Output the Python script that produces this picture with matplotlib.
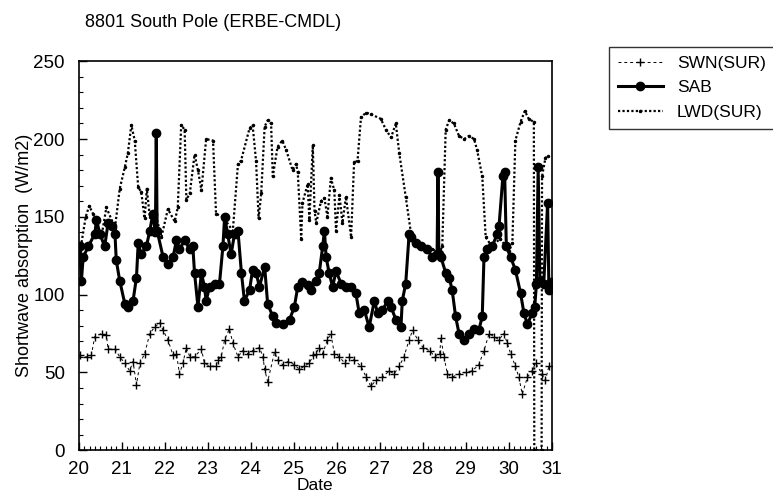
"""
8801 South Pole (ERBE-CMDL): shortwave absorption vs date
"""

import matplotlib
matplotlib.use("Agg")
import matplotlib.pyplot as plt
from matplotlib.ticker import MultipleLocator

plt.rcParams['font.family'] = ['Liberation Sans', 'DejaVu Sans']

# ==================== Data ====================

swn_days = [20.02, 20.18, 20.29, 20.37, 20.53, 20.64, 20.68, 20.84, 20.95, 21.07,
            21.18, 21.26, 21.34, 21.42, 21.53, 21.65, 21.76, 21.88, 21.96, 22.07,
            22.19, 22.27, 22.34, 22.42, 22.50, 22.58, 22.69, 22.85, 22.92, 23.04,
            23.19, 23.23, 23.31, 23.39, 23.50, 23.58, 23.70, 23.81, 23.93, 24.04,
            24.20, 24.28, 24.32, 24.39, 24.55, 24.63, 24.74, 24.86, 25.01, 25.13,
            25.24, 25.36, 25.45, 25.51, 25.59, 25.67, 25.78, 25.86, 25.94, 26.06,
            26.18, 26.29, 26.40, 26.56, 26.68, 26.79, 26.91, 27.06, 27.22, 27.33,
            27.45, 27.56, 27.68, 27.76, 27.88, 28.00, 28.16, 28.28, 28.39, 28.42,
            28.49, 28.57, 28.68, 28.84, 29.00, 29.15, 29.30, 29.42, 29.54, 29.65,
            29.77, 29.88, 29.96, 30.04, 30.15, 30.23, 30.31, 30.43, 30.54, 30.62,
            30.77, 30.85, 30.93]
swn_vals = [61, 60, 61, 73, 75, 74, 65, 65, 60, 56,
            51, 57, 42, 56, 62, 75, 79, 82, 77, 71,
            61, 62, 49, 56, 66, 60, 60, 65, 56, 54,
            54, 58, 60, 71, 78, 69, 60, 64, 62, 64,
            66, 60, 52, 44, 63, 58, 55, 57, 55, 52,
            54, 56, 61, 62, 66, 62, 71, 75, 62, 60,
            56, 60, 58, 54, 47, 41, 45, 47, 51, 49,
            54, 60, 71, 77, 71, 66, 64, 60, 62, 72,
            60, 49, 47, 49, 50, 51, 55, 64, 75, 73,
            71, 75, 69, 62, 54, 47, 36, 47, 51, 56,
            49, 45, 54]

sab_days = [20.02, 20.06, 20.10, 20.22, 20.37, 20.41, 20.49, 20.60, 20.68, 20.76,
            20.84, 20.87, 20.95, 21.07, 21.14, 21.26, 21.34, 21.38, 21.45, 21.57,
            21.65, 21.72, 21.78, 21.80, 21.82, 21.96, 22.07, 22.19, 22.27, 22.34,
            22.46, 22.58, 22.65, 22.69, 22.77, 22.85, 22.92, 22.96, 23.04, 23.16,
            23.27, 23.35, 23.39, 23.46, 23.54, 23.62, 23.70, 23.78, 23.85, 23.97,
            24.04, 24.12, 24.20, 24.32, 24.39, 24.51, 24.59, 24.74, 24.90, 25.01,
            25.09, 25.20, 25.32, 25.40, 25.51, 25.59, 25.67, 25.71, 25.75, 25.82,
            25.90, 25.98, 26.10, 26.21, 26.33, 26.44, 26.52, 26.64, 26.75, 26.87,
            26.95, 27.06, 27.18, 27.26, 27.37, 27.49, 27.52, 27.60, 27.68, 27.72,
            27.83, 27.95, 28.10, 28.22, 28.33, 28.35, 28.37, 28.42, 28.53, 28.61,
            28.68, 28.76, 28.84, 28.96, 29.07, 29.19, 29.30, 29.38, 29.42, 29.50,
            29.61, 29.73, 29.77, 29.86, 29.90, 29.94, 30.04, 30.15, 30.27, 30.35,
            30.43, 30.54, 30.60, 30.64, 30.68, 30.72, 30.81, 30.90, 30.93, 30.97]
sab_vals = [131, 109, 124, 131, 139, 148, 139, 131, 146, 144,
            139, 122, 109, 94, 92, 96, 111, 133, 126, 131,
            141, 152, 140, 204, 141, 124, 120, 124, 135, 129,
            135, 129, 131, 114, 92, 114, 105, 96, 105, 107,
            107, 131, 150, 139, 126, 139, 141, 114, 96, 103,
            116, 114, 105, 118, 94, 86, 82, 81, 84, 92,
            105, 108, 106, 103, 109, 114, 131, 141, 124, 114,
            105, 115, 107, 105, 105, 101, 88, 90, 79, 96,
            88, 90, 96, 92, 84, 79, 96, 107, 139, 137,
            133, 131, 129, 124, 126, 179, 126, 124, 114, 111,
            103, 86, 75, 71, 75, 78, 77, 86, 124, 129,
            131, 139, 144, 176, 179, 131, 124, 116, 101, 88,
            81, 88, 92, 107, 182, 109, 107, 159, 103, 108]

lwd_days = [20.02, 20.06, 20.16, 20.24, 20.33, 20.44, 20.53, 20.64, 20.84, 20.95,
            21.07, 21.14, 21.22, 21.30, 21.38, 21.45, 21.53, 21.58, 21.65, 21.80,
            21.92, 22.07, 22.23, 22.30, 22.38, 22.46, 22.50, 22.58, 22.69, 22.77,
            22.85, 22.96, 23.12, 23.19, 23.35, 23.58, 23.70, 23.77, 23.97, 24.04,
            24.12, 24.18, 24.24, 24.32, 24.39, 24.47, 24.51, 24.62, 24.73, 24.82,
            24.97, 25.05, 25.09, 25.17, 25.20, 25.32, 25.36, 25.44, 25.48, 25.52,
            25.63, 25.71, 25.78, 25.86, 25.94, 25.98, 26.06, 26.13, 26.21, 26.33,
            26.40, 26.48, 26.56, 26.68, 26.79, 27.02, 27.14, 27.26, 27.37, 27.45,
            27.60, 27.72, 27.85, 28.00, 28.20, 28.40, 28.45, 28.53, 28.61, 28.72,
            28.84, 28.96, 29.07, 29.19, 29.26, 29.38, 29.46, 29.60, 29.80, 30.00,
            30.08, 30.15, 30.27, 30.37, 30.46, 30.58, 30.59, 30.76, 30.77, 30.85,
            30.92]
lwd_vals = [128, 133, 150, 157, 152, 141, 138, 156, 143, 168,
            182, 191, 209, 199, 169, 166, 149, 168, 150, 150,
            137, 155, 147, 156, 209, 206, 161, 165, 190, 180,
            167, 200, 199, 152, 150, 141, 184, 186, 207, 209,
            186, 149, 165, 208, 212, 210, 176, 195, 199, 193,
            180, 184, 179, 136, 159, 171, 148, 196, 154, 146,
            160, 162, 150, 175, 167, 141, 164, 146, 163, 137,
            185, 186, 214, 217, 216, 213, 206, 201, 210, 191,
            163, 140, 133, 131, 129, 128, 131, 206, 212, 210,
            202, 200, 202, 200, 193, 176, 137, 131, 136, 128,
            133, 199, 211, 218, 213, 211, 0, 0, 176, 188,
            189]

y_ticks = [0, 50, 100, 150, 200, 250]
x_ticks = list(range(20, 32))

# ==================== Plot ====================

fig = plt.figure(figsize=(7.73, 4.98), dpi=100)
ax = fig.add_axes([0.102, 0.096, 0.612, 0.781])

ax.plot(swn_days, swn_vals, color='black', linestyle=(0, (3, 3)), linewidth=0.7,
        marker='+', markersize=6, markeredgewidth=1.0, label='SWN(SUR)')
ax.plot(sab_days, sab_vals, color='black', linestyle='-', linewidth=2.2,
        marker='o', markersize=6, label='SAB')
ax.plot(lwd_days, lwd_vals, color='black', linestyle=(0, (1, 1)), linewidth=1.6,
        marker='o', markersize=1.5, label='LWD(SUR)')

ax.set_xlim(20, 31)
ax.set_ylim(0, 250)
ax.set_xticks(x_ticks)
ax.set_yticks(y_ticks)
ax.xaxis.set_minor_locator(MultipleLocator(0.125))
ax.yaxis.set_minor_locator(MultipleLocator(10))
ax.tick_params(which='major', direction='in', length=6, width=1, labelsize=13.5,
               top=False, right=False)
ax.tick_params(axis='x', which='major', pad=8)
ax.tick_params(axis='y', which='major', pad=10)
ax.tick_params(which='minor', direction='in', length=3, width=0.8,
               top=False, right=False)
for side in ax.spines.values():
    side.set_linewidth(1.2)

ax.set_xlabel("Date", fontsize=12.5, labelpad=0)
ax.set_ylabel("Shortwave absorption  (W/m2)", fontsize=13, labelpad=0.5)
fig.text(0.110, 0.955, "8801 South Pole (ERBE-CMDL)", fontsize=13, va='center')

# Legend box sits outside the plot on the right
leg = fig.legend(loc='upper left', bbox_to_anchor=(0.788, 0.906), fontsize=12.5,
                 frameon=True, fancybox=False, edgecolor='black',
                 borderaxespad=0, handlelength=2.6, borderpad=0.5,
                 labelspacing=0.55)
leg.get_frame().set_linewidth(1.0)

fig.savefig("out.png", dpi=100)
